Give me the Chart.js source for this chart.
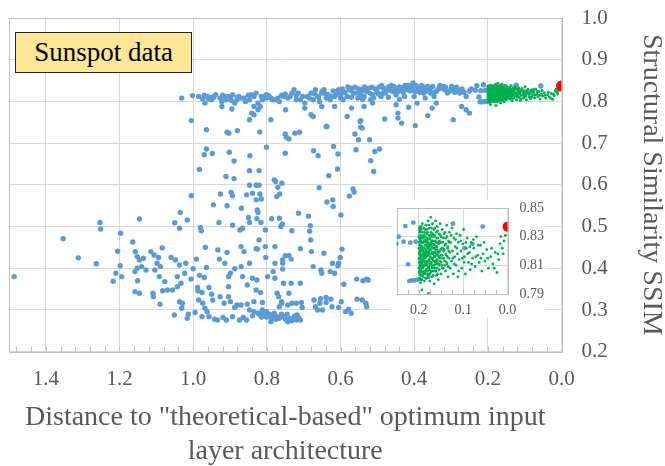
<!DOCTYPE html>
<html>
<head>
<meta charset="utf-8">
<script src="https://cdn.jsdelivr.net/npm/chart.js@4.4.1/dist/chart.umd.min.js"></script>
<style>
  html, body { margin: 0; padding: 0; background: #fff; overflow: hidden; }
  #wrap { position: relative; width: 665px; height: 466px; }
  #main { position: absolute; left: 0; top: 0; }
  #inset { position: absolute; left: 391px; top: 200px; background: #fff; }
  #tag {
    position: absolute; left: 15px; top: 32px; width: 177px; height: 41px;
    box-sizing: border-box; border: 1.5px solid #262626; background: #FFE699;
    font: 27px "Liberation Serif", "Times New Roman", serif; color: #000;
    text-align: center; line-height: 38px;
  }
</style>
</head>
<body>
<div id="wrap">
  <canvas id="main" width="665" height="466"></canvas>
  <canvas id="inset" width="155" height="118"></canvas>
  <div id="tag">Sunspot data</div>
</div>
<script>
// ---- data: [distance, SSIM] ----
const xTicks = [0, 0.2, 0.4, 0.6, 0.8, 1.0, 1.2, 1.4];
const yTicks = [0.2, 0.3, 0.4, 0.5, 0.6, 0.7, 0.8, 0.9, 1.0];
const insetXTicks = [0, 0.1, 0.2];
const insetYTicks = [0.79, 0.81, 0.83, 0.85];

const optimumPoint = [[0, 0.837]];

const bluePoints = [
  // upper band
  [1.031,0.808],[1.002,0.814],[1.005,0.754],[0.974,0.806],[0.968,0.796],[0.962,0.812],[0.950,0.804],[0.939,0.816],
  [0.927,0.808],[0.922,0.800],[0.910,0.804],[0.904,0.812],[0.899,0.808],[0.893,0.816],[0.887,0.796],[0.881,0.804],
  [0.876,0.812],[0.870,0.808],[0.858,0.800],[0.847,0.804],[0.835,0.812],[0.829,0.820],[0.824,0.796],[0.818,0.788],
  [0.812,0.804],[0.806,0.812],[0.801,0.816],[0.789,0.808],[0.778,0.804],[0.766,0.800],[0.755,0.812],[0.743,0.808],
  [0.732,0.820],[0.726,0.828],[0.720,0.804],[0.709,0.804],[0.703,0.812],[0.697,0.796],[0.685,0.808],[0.674,0.804],
  [0.668,0.828],[0.662,0.812],[0.657,0.800],[0.651,0.820],[0.645,0.828],[0.639,0.808],[0.634,0.816],[0.628,0.804],
  [0.616,0.812],[0.611,0.824],[0.605,0.828],[0.599,0.816],[0.593,0.804],[0.582,0.812],[0.576,0.828],[0.570,0.832],
  [0.559,0.820],[0.553,0.808],[0.547,0.816],[0.541,0.828],[0.536,0.812],[0.530,0.824],[0.524,0.832],[0.518,0.804],
  [0.513,0.816],[0.501,0.824],[0.490,0.812],[0.484,0.832],[0.478,0.820],[0.467,0.828],[0.455,0.836],[0.449,0.816],
  [0.444,0.824],[0.432,0.832],[0.426,0.812],[0.421,0.828],[0.409,0.836],[0.403,0.844],[0.397,0.824],[0.386,0.832],
  [0.374,0.820],[0.363,0.836],[0.357,0.828],[0.346,0.812],[0.340,0.824],[0.328,0.832],[0.317,0.828],[0.305,0.824],
  [0.294,0.832],[0.282,0.828],[0.276,0.820],[0.259,0.812],
  [0.620,0.825],[0.600,0.820],[0.580,0.835],[0.565,0.820],[0.550,0.830],[0.535,0.835],[0.520,0.820],[0.505,0.830],
  [0.495,0.835],[0.485,0.820],[0.470,0.835],[0.460,0.825],[0.450,0.830],[0.440,0.835],[0.430,0.822],[0.415,0.838],
  [0.410,0.825],[0.395,0.838],[0.385,0.822],[0.375,0.830],[0.365,0.825],[0.350,0.836],[0.345,0.822],[0.335,0.830],
  [0.320,0.836],[0.310,0.820],[0.300,0.830],[0.290,0.822],[0.270,0.830],[0.250,0.825],
  [0.600,0.808],[0.570,0.810],[0.540,0.805],[0.510,0.808],[0.470,0.810],[0.440,0.805],[0.400,0.812],[0.370,0.808],
  [0.720,0.815],[0.760,0.815],[0.800,0.808],[0.850,0.815],[0.880,0.810],[0.920,0.815],[0.950,0.810],[0.970,0.815],
  [0.680,0.820],[0.660,0.810],
  [0.985,0.812],[0.958,0.806],[0.944,0.810],[0.915,0.812],[0.896,0.802],[0.862,0.808],[0.842,0.816],[0.815,0.812],
  [0.795,0.814],[0.785,0.804],[0.770,0.808],[0.750,0.818],[0.737,0.812],[0.715,0.820],[0.690,0.812],[0.670,0.818],
  [0.650,0.824],[0.640,0.818],[0.625,0.812],[0.612,0.816],[0.595,0.830],[0.588,0.822],[0.572,0.826],[0.560,0.834],
  [0.545,0.822],[0.528,0.829],[0.515,0.834],[0.498,0.818],[0.488,0.838],[0.475,0.826],[0.462,0.838],[0.452,0.822],
  [0.436,0.828],[0.425,0.838],[0.418,0.832],[0.405,0.830],[0.390,0.828],[0.380,0.838],[0.368,0.834],[0.355,0.820],
  [0.330,0.838],[0.315,0.834],[0.298,0.836],[0.285,0.834],[0.265,0.822],[0.245,0.830],
  // just below the band
  [0.835,0.788],[0.824,0.780],[0.895,0.782],[0.922,0.788],[0.841,0.772],[0.789,0.756],[0.847,0.756],[0.835,0.768],
  [0.674,0.764],[0.680,0.768],[0.639,0.740],[0.582,0.764],[0.547,0.752],[0.541,0.736],[0.480,0.758],[0.444,0.772],
  [0.444,0.760],[0.434,0.748],[0.397,0.742],[0.363,0.766],[0.351,0.784],[0.415,0.786],[0.294,0.756],[0.259,0.780],
  [0.250,0.772],[0.271,0.788],[0.340,0.796],[0.392,0.796],[0.449,0.792],[0.513,0.796],[0.536,0.788],[0.570,0.784],
  [0.616,0.788],[0.651,0.788],[0.697,0.784],[0.749,0.780],
  // middle
  [0.964,0.732],[0.908,0.726],[0.903,0.724],[0.880,0.730],[0.819,0.727],[0.750,0.722],[0.740,0.710],[0.747,0.714],
  [0.724,0.724],[0.711,0.726],[0.637,0.740],[0.561,0.722],[0.551,0.708],[0.545,0.738],[0.545,0.754],[0.521,0.708],
  [0.964,0.686],[0.970,0.672],[0.948,0.675],[0.902,0.678],[0.889,0.657],[0.846,0.670],[0.801,0.690],[0.750,0.676],
  [0.673,0.682],[0.661,0.670],[0.619,0.692],[0.607,0.674],[0.558,0.684],[0.518,0.658],[0.507,0.680],[0.494,0.686],
  [0.510,0.632],[0.983,0.637],[0.911,0.620],[0.889,0.615],[0.847,0.634],[0.821,0.634],[0.847,0.599],[0.829,0.599],
  [0.821,0.599],[0.780,0.612],[0.776,0.608],[0.759,0.604],[0.632,0.622],[0.608,0.638],[0.658,0.593],[0.566,0.590],
  [0.563,0.583],[0.576,0.573],[0.770,0.594],[1.005,0.574],[0.926,0.578],[0.897,0.582],[0.893,0.574],[0.855,0.576],
  [0.839,0.580],[0.819,0.578],[0.815,0.566],[0.765,0.578],[0.773,0.572],[0.637,0.559],[0.621,0.564],[0.620,0.548],
  [0.945,0.552],[0.908,0.550],[0.869,0.544],[0.829,0.564],[0.826,0.540],[0.824,0.534],[1.035,0.534],[0.599,0.528],
  [1.146,0.518],[1.253,0.510],[1.251,0.494],[1.050,0.509],[1.037,0.496],[1.016,0.516],[0.980,0.498],[0.978,0.490],
  [0.930,0.510],[0.893,0.503],[0.873,0.492],[0.866,0.496],[0.850,0.522],[0.847,0.510],[0.827,0.519],[0.816,0.510],
  [0.787,0.519],[0.766,0.520],[0.762,0.500],[0.758,0.506],[0.804,0.492],[0.732,0.490],[0.714,0.532],[0.687,0.525],
  [0.684,0.489],[0.682,0.502],
  // lower left
  [1.197,0.484],[1.353,0.471],[1.164,0.463],[1.312,0.425],[1.263,0.411],[1.205,0.441],[1.198,0.406],[1.210,0.388],
  [1.217,0.369],[1.194,0.380],[1.486,0.380],
  [1.157,0.440],[1.152,0.428],[1.146,0.420],[1.135,0.424],[1.152,0.400],[1.140,0.404],[1.128,0.396],[1.158,0.392],
  [1.151,0.370],[1.146,0.340],[1.158,0.344],[1.115,0.440],[1.106,0.432],[1.094,0.426],[1.084,0.449],[1.098,0.412],
  [1.089,0.404],[1.104,0.396],[1.092,0.380],[1.109,0.340],[1.108,0.332],[1.090,0.314],[1.077,0.368],[1.083,0.346],
  [1.070,0.348],[1.060,0.426],[1.048,0.420],[1.037,0.408],[1.043,0.380],[1.033,0.364],[1.020,0.412],[1.023,0.388],
  [1.056,0.348],[1.043,0.356],[1.037,0.320],[1.029,0.316],[1.031,0.304],[1.051,0.288],[1.016,0.280],[1.013,0.290],
  [0.995,0.294],
  // lower centre
  [1.006,0.374],[1.000,0.399],[0.991,0.422],[0.983,0.383],[0.988,0.354],[0.987,0.346],[0.985,0.324],[0.976,0.342],
  [0.970,0.378],[0.964,0.402],[0.957,0.354],[0.950,0.338],[0.947,0.324],[0.974,0.316],[0.968,0.304],[0.962,0.296],
  [0.957,0.284],[0.976,0.284],[0.942,0.278],[0.934,0.276],[0.967,0.450],[0.933,0.444],[0.908,0.438],[0.929,0.422],
  [0.914,0.412],[0.904,0.380],[0.899,0.388],[0.887,0.399],[0.904,0.356],[0.904,0.332],[0.927,0.332],[0.916,0.316],
  [0.899,0.320],[0.887,0.306],[0.881,0.312],[0.919,0.282],[0.910,0.276],[0.893,0.284],[0.874,0.276],[0.864,0.282],
  [0.855,0.276],[0.839,0.286],[0.870,0.452],[0.862,0.440],[0.847,0.412],[0.870,0.404],[0.866,0.380],[0.839,0.376],
  [0.827,0.372],[0.829,0.348],[0.817,0.342],[0.853,0.360],[0.829,0.447],[0.825,0.446],[0.821,0.468],[0.803,0.426],
  [0.798,0.380],[0.804,0.452],[0.778,0.452],
  [0.870,0.312],[0.853,0.314],[0.847,0.300],[0.835,0.296],[0.824,0.292],[0.812,0.300],[0.806,0.286],[0.801,0.296],
  [0.795,0.284],[0.789,0.272],[0.783,0.280],[0.772,0.284],[0.766,0.280],[0.755,0.284],[0.749,0.278],[0.743,0.272],
  [0.737,0.280],[0.732,0.274],[0.720,0.276],[0.714,0.282],[0.709,0.276],[0.812,0.318],[0.835,0.320],
  [0.820,0.290],[0.815,0.283],[0.808,0.290],[0.800,0.283],[0.793,0.290],[0.786,0.286],[0.780,0.292],[0.775,0.278],
  [0.760,0.290],[0.745,0.290],[0.725,0.285],[0.718,0.288],
  // lower right
  [0.783,0.392],[0.778,0.412],[0.778,0.376],[0.772,0.340],[0.768,0.332],[0.757,0.412],[0.757,0.420],[0.750,0.430],
  [0.740,0.431],[0.734,0.422],[0.757,0.398],[0.755,0.364],[0.740,0.340],[0.734,0.364],[0.720,0.316],[0.709,0.364],
  [0.706,0.318],[0.704,0.306],[0.681,0.468],[0.679,0.440],[0.674,0.404],[0.653,0.396],[0.651,0.388],[0.645,0.436],
  [0.628,0.392],[0.622,0.412],[0.616,0.388],[0.605,0.412],[0.601,0.426],[0.596,0.446],[0.591,0.362],[0.607,0.406],
  [0.709,0.447],[0.760,0.320],[0.760,0.316],[0.766,0.308],[0.743,0.312],[0.732,0.316],
  [0.672,0.324],[0.668,0.308],[0.662,0.300],[0.656,0.316],[0.649,0.300],[0.654,0.327],[0.639,0.318],[0.639,0.330],
  [0.626,0.326],[0.623,0.308],[0.605,0.306],[0.598,0.320],[0.578,0.302],[0.586,0.296],[0.571,0.292],
  [0.556,0.374],[0.555,0.326],[0.539,0.370],[0.529,0.374],[0.525,0.372],[0.531,0.316],[0.541,0.324],[0.529,0.308],
  // near the optimum (seen in the inset)
  [0.230,0.8374],[0.212,0.8398],[0.197,0.835],[0.234,0.8265],[0.219,0.8258],[0.207,0.8265],[0.224,0.8107],
  [0.221,0.799],[0.2155,0.7995],[0.210,0.7995],[0.204,0.800],[0.123,0.839],[0.056,0.837],[0.079,0.825],
  [0.097,0.822],[0.178,0.802]
];

const greenPoints = [
  [0.199,0.805],[0.199,0.812],[0.199,0.818],[0.199,0.826],[0.198,0.833],[0.198,0.801],[0.198,0.809],[0.198,0.815],
  [0.198,0.822],[0.198,0.829],[0.197,0.837],[0.197,0.804],[0.197,0.811],[0.197,0.819],[0.197,0.824],[0.196,0.831],
  [0.196,0.798],[0.196,0.807],[0.196,0.814],[0.196,0.820],[0.195,0.827],[0.195,0.835],[0.195,0.803],[0.195,0.810],
  [0.195,0.817],
  [0.1995,0.808],[0.1995,0.815],[0.1995,0.822],[0.1995,0.830],[0.1985,0.800],[0.1985,0.812],[0.1985,0.819],
  [0.1985,0.826],[0.1985,0.836],[0.1975,0.806],[0.1975,0.814],[0.1975,0.821],[0.1975,0.828],[0.1965,0.803],
  [0.1965,0.810],[0.1965,0.817],[0.1965,0.824],[0.1965,0.834],[0.1955,0.800],[0.1955,0.813],[0.1955,0.820],
  [0.1955,0.830],
  [0.194,0.823],[0.194,0.829],[0.193,0.800],[0.193,0.808],[0.193,0.814],[0.193,0.821],[0.192,0.833],[0.192,0.839],
  [0.192,0.805],[0.191,0.812],[0.191,0.818],[0.191,0.826],[0.190,0.830],[0.190,0.802],[0.190,0.809],[0.189,0.816],
  [0.189,0.822],[0.189,0.836],[0.188,0.806],[0.188,0.813],[0.188,0.819],[0.187,0.827],[0.187,0.833],[0.187,0.799],
  [0.186,0.810],[0.186,0.815],[0.186,0.824],[0.185,0.830],[0.185,0.804],[0.185,0.818],[0.193,0.7928],
  [0.1945,0.806],[0.1945,0.816],[0.1945,0.837],[0.1935,0.811],[0.1935,0.826],[0.1925,0.803],[0.1925,0.817],
  [0.1925,0.823],[0.1915,0.808],[0.1915,0.829],[0.1905,0.814],[0.1905,0.820],[0.1895,0.804],[0.1895,0.826],
  [0.1885,0.810],[0.1885,0.831],[0.1875,0.817],[0.1875,0.822],[0.1865,0.805],[0.1865,0.828],[0.1855,0.812],
  [0.1855,0.835],[0.1845,0.801],[0.1845,0.816],[0.1845,0.827],
  [0.184,0.811],[0.184,0.821],[0.184,0.838],[0.183,0.807],[0.183,0.816],[0.183,0.826],[0.182,0.832],[0.182,0.801],
  [0.182,0.813],[0.181,0.819],[0.181,0.823],[0.181,0.835],[0.180,0.806],[0.180,0.812],[0.180,0.828],[0.179,0.817],
  [0.179,0.822],[0.179,0.841],[0.178,0.803],[0.178,0.809],[0.178,0.825],[0.178,0.7905],[0.177,0.814],[0.177,0.820],
  [0.177,0.831],[0.176,0.807],[0.176,0.818],[0.176,0.836],[0.175,0.811],[0.175,0.824],[0.175,0.799],
  [0.1835,0.812],[0.1835,0.820],[0.1825,0.806],[0.1825,0.824],[0.1815,0.829],[0.1815,0.810],[0.1805,0.817],
  [0.1805,0.833],[0.1795,0.804],[0.1795,0.826],[0.1785,0.813],[0.1785,0.819],[0.1775,0.808],[0.1775,0.838],
  [0.1765,0.823],[0.1765,0.813],[0.1755,0.829],[0.1755,0.804],[0.1745,0.810],[0.1745,0.821],
  [0.174,0.816],[0.174,0.828],[0.173,0.8435],[0.173,0.805],[0.173,0.821],[0.172,0.812],[0.172,0.833],[0.171,0.818],
  [0.171,0.825],[0.170,0.802],[0.170,0.809],[0.170,0.830],[0.169,0.815],[0.169,0.839],[0.168,0.822],[0.168,0.806],
  [0.167,0.813],[0.167,0.827],[0.166,0.819],[0.166,0.835],[0.165,0.810],[0.165,0.824],[0.165,0.797],
  [0.1735,0.815],[0.1735,0.831],[0.1725,0.806],[0.1725,0.826],[0.1715,0.811],[0.1715,0.836],[0.1705,0.819],
  [0.1705,0.823],[0.1695,0.808],[0.1695,0.827],[0.1685,0.814],[0.1685,0.832],[0.1675,0.818],[0.1675,0.803],
  [0.1665,0.825],[0.1665,0.810],[0.1655,0.816],[0.1655,0.830],
  [0.164,0.816],[0.164,0.831],[0.163,0.806],[0.163,0.821],[0.162,0.812],[0.162,0.841],[0.161,0.826],[0.161,0.818],
  [0.160,0.803],[0.160,0.833],[0.159,0.814],[0.159,0.823],[0.158,0.808],[0.158,0.837],[0.157,0.819],[0.157,0.829],
  [0.156,0.811],[0.156,0.800],[0.155,0.825],[0.155,0.816],
  [0.1645,0.808],[0.1645,0.822],[0.1635,0.813],[0.1635,0.836],[0.1625,0.819],[0.1625,0.827],[0.1615,0.806],
  [0.1615,0.811],[0.1605,0.823],[0.1605,0.817],[0.1595,0.829],[0.1595,0.808],[0.1585,0.813],[0.1585,0.821],
  [0.1575,0.834],[0.1575,0.804],[0.1565,0.817],[0.1565,0.826],[0.1555,0.811],
  [0.154,0.832],[0.154,0.807],[0.153,0.820],[0.152,0.813],[0.152,0.839],[0.151,0.826],[0.150,0.817],[0.150,0.804],
  [0.149,0.830],[0.148,0.822],[0.148,0.810],[0.147,0.835],[0.146,0.815],[0.146,0.826],[0.145,0.808],
  [0.1545,0.819],[0.1535,0.827],[0.1535,0.810],[0.1525,0.815],[0.1515,0.831],[0.1505,0.821],[0.1495,0.812],
  [0.1485,0.826],[0.1475,0.817],[0.1465,0.808],[0.1455,0.822],[0.1445,0.829],[0.1435,0.815],[0.1425,0.821],
  [0.1415,0.810],[0.1405,0.833],[0.1395,0.818],[0.1385,0.825],[0.1375,0.812],[0.1365,0.830],[0.1355,0.816],
  [0.1345,0.823],[0.1335,0.809],[0.1325,0.820],[0.1315,0.826],
  [0.144,0.820],[0.143,0.832],[0.142,0.813],[0.141,0.824],[0.140,0.806],[0.139,0.829],[0.138,0.817],[0.137,0.838],
  [0.136,0.811],[0.135,0.822],[0.134,0.802],[0.133,0.827],[0.132,0.815],[0.131,0.833],[0.130,0.819],
  [0.129,0.808],[0.128,0.826],[0.126,0.813],[0.125,0.836],[0.124,0.820],[0.122,0.804],[0.121,0.829],[0.119,0.816],
  [0.118,0.823],[0.116,0.810],[0.115,0.832],[0.113,0.818],[0.112,0.802],[0.111,0.826],
  [0.127,0.831],[0.123,0.815],[0.120,0.811],[0.117,0.828],[0.114,0.822],[0.110,0.806],[0.106,0.827],[0.102,0.815],
  [0.098,0.812],[0.094,0.826],[0.090,0.818],[0.085,0.823],[0.081,0.811],[0.077,0.828],[0.072,0.816],[0.066,0.824],
  [0.060,0.815],[0.053,0.826],[0.045,0.815],[0.036,0.822],[0.030,0.808],[0.022,0.818],[0.010,0.818],
  [0.109,0.814],[0.107,0.831],[0.105,0.820],[0.103,0.808],[0.101,0.825],[0.099,0.835],[0.097,0.816],[0.095,0.804],
  [0.093,0.822],[0.091,0.829],[0.088,0.812],[0.086,0.819],[0.084,0.807],[0.082,0.826],
  [0.079,0.815],[0.076,0.822],[0.073,0.809],[0.070,0.830],[0.067,0.817],[0.064,0.812],[0.061,0.824],[0.058,0.806],
  [0.055,0.818],[0.051,0.813],[0.047,0.821],[0.043,0.808],
  [0.038,0.816],[0.033,0.811],[0.028,0.819],[0.024,0.805],[0.020,0.814],[0.017,0.825],[0.015,0.830],[0.012,0.822],
  [0.008,0.827],[0.005,0.831]
];

// ---- drawing ----
const SERIF = '"Liberation Serif", "Times New Roman", serif';
const GREY_TEXT = '#595959';
const GRID = '#d9d9d9';
const FRAME = '#bfbfbf';

const toXY = pts => pts.map(p => ({ x: p[0], y: p[1] }));

function datasets(r) {
  return [
    { label: 'Optimum', data: toXY(optimumPoint), backgroundColor: '#FF0000', pointRadius: r.red, pointBorderWidth: 0, order: 0 },
    { label: 'Near optimum', data: toXY(greenPoints), backgroundColor: '#00B050', pointRadius: r.green, pointBorderWidth: 0, order: 1 },
    { label: 'Architectures', data: toXY(bluePoints), backgroundColor: '#5B9BD5', pointRadius: r.blue, pointBorderWidth: 0, order: 2 }
  ];
}

// the right-hand axis should not push the plot down for its end labels
const noEndPadding = s => { s.paddingTop = 0; s.paddingBottom = 0; };

// frame round the plot and small inner ticks on the bottom axis
function framePlugin(minorStep, minorMax, tickLen) {
  return {
    id: 'frame',
    beforeDatasetsDraw(chart) {
      const { ctx, chartArea: a } = chart;
      const xs = chart.scales.x;
      ctx.save();
      ctx.strokeStyle = FRAME;
      ctx.lineWidth = 1;
      for (let v = 0; v <= minorMax + 1e-9; v += minorStep) {
        const px = Math.round(xs.getPixelForValue(v)) + 0.5;
        ctx.beginPath();
        ctx.moveTo(px, a.bottom);
        ctx.lineTo(px, a.bottom - tickLen);
        ctx.stroke();
      }
      ctx.strokeRect(Math.round(a.left) + 0.5, Math.round(a.top) + 0.5,
        Math.round(a.right - a.left), Math.round(a.bottom - a.top));
      ctx.restore();
    }
  };
}

new Chart(document.getElementById('main'), {
  type: 'scatter',
  data: { datasets: datasets({ red: 5.5, green: 1.5, blue: 2.7 }) },
  options: {
    responsive: false,
    animation: false,
    devicePixelRatio: 1,
    layout: { padding: { left: 9, top: 18, right: 0, bottom: 0 } },
    plugins: { legend: { display: false }, tooltip: { enabled: false } },
    scales: {
      x: {
        type: 'linear', reverse: true, min: 0, max: 1.5,
        afterBuildTicks: s => { s.ticks = xTicks.map(v => ({ value: v })); },
        afterFit: s => { s.height = 114.3; },
        grid: { color: GRID, drawTicks: false },
        border: { display: false },
        ticks: { padding: 15, color: GREY_TEXT, font: { family: SERIF, size: 21 }, callback: v => v.toFixed(1), maxRotation: 0 },
        title: {
          display: true,
          text: ['Distance to "theoretical-based" optimum input', 'layer architecture'],
          color: GREY_TEXT,
          font: { family: SERIF, size: 28, lineHeight: 1.22 },
          padding: { top: 0, bottom: -3 }
        }
      },
      y: {
        type: 'linear', position: 'right', min: 0.2, max: 1.0,
        afterBuildTicks: s => { s.ticks = yTicks.map(v => ({ value: v })); },
        afterFit: s => { s.width = 103.5; noEndPadding(s); },
        grid: { color: GRID, drawTicks: false },
        border: { display: false },
        ticks: { padding: 20, color: GREY_TEXT, font: { family: SERIF, size: 21 }, callback: v => v.toFixed(1) },
        title: {
          display: true,
          text: 'Structural Similarity SSIM',
          color: GREY_TEXT,
          font: { family: SERIF, size: 28, lineHeight: 1 },
          padding: 0
        }
      }
    }
  },
  plugins: [framePlugin(0.04, 1.5, 5)]
});

new Chart(document.getElementById('inset'), {
  type: 'scatter',
  data: { datasets: datasets({ red: 5, green: 1.4, blue: 2.4 }) },
  options: {
    responsive: false,
    animation: false,
    devicePixelRatio: 1,
    layout: { padding: { left: 5.5, top: 8, right: 0, bottom: 0 } },
    plugins: { legend: { display: false }, tooltip: { enabled: false } },
    scales: {
      x: {
        type: 'linear', reverse: true, min: 0, max: 0.25,
        afterBuildTicks: s => { s.ticks = insetXTicks.map(v => ({ value: v })); },
        afterFit: s => { s.height = 24; },
        grid: { color: GRID, drawTicks: false },
        border: { display: false },
        ticks: { padding: 8, color: GREY_TEXT, font: { family: SERIF, size: 14 }, callback: v => v.toFixed(1), maxRotation: 0 }
      },
      y: {
        type: 'linear', position: 'right', min: 0.79, max: 0.85,
        afterBuildTicks: s => { s.ticks = insetYTicks.map(v => ({ value: v })); },
        afterFit: s => { s.width = 38.4; noEndPadding(s); },
        grid: { color: GRID, drawTicks: false },
        border: { display: false },
        ticks: { padding: 12, color: GREY_TEXT, font: { family: SERIF, size: 14 }, callback: v => v.toFixed(2) }
      }
    }
  },
  plugins: [framePlugin(0.025, 0.25, 4)]
});
</script>
</body>
</html>
